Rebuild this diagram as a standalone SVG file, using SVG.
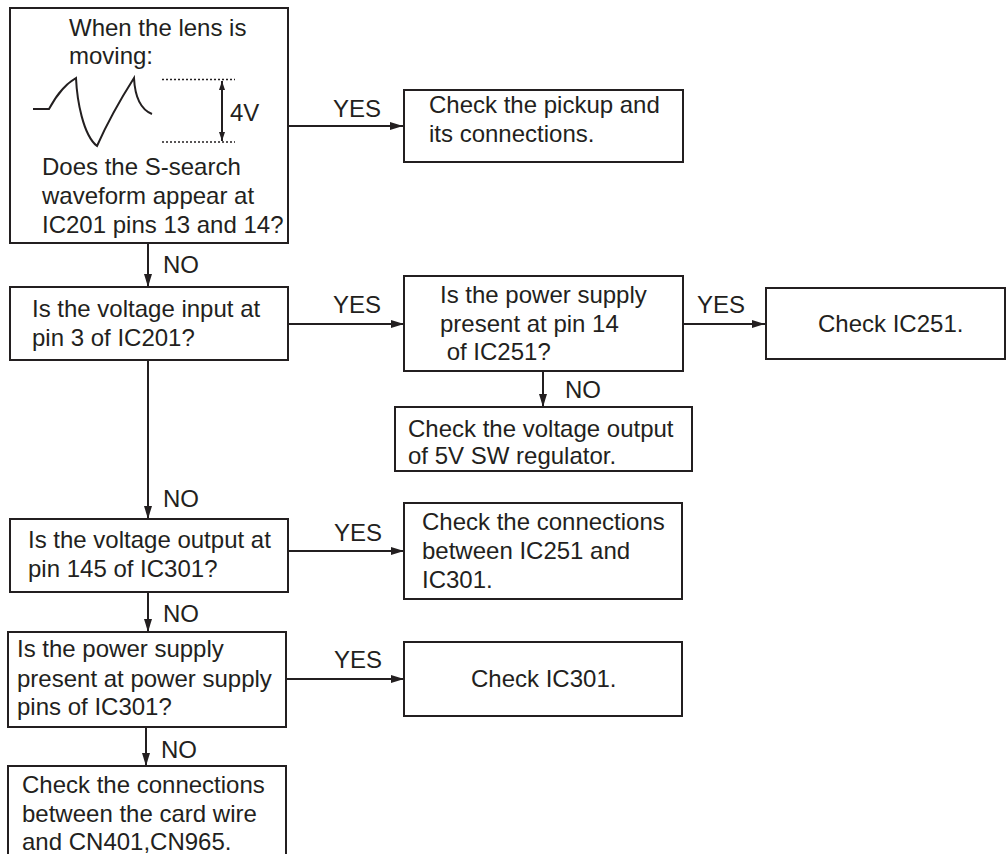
<svg xmlns="http://www.w3.org/2000/svg" width="1008" height="854" viewBox="0 0 1008 854">
<defs>
<marker id="ah" markerUnits="userSpaceOnUse" markerWidth="14" markerHeight="10" refX="13" refY="5" orient="auto">
<path d="M0,1 L13,5 L0,9 Z" fill="#231f20"/>
</marker>
<marker id="sh" markerUnits="userSpaceOnUse" markerWidth="10" markerHeight="8" refX="9" refY="4" orient="auto-start-reverse">
<path d="M0,1 L9,4 L0,7 Z" fill="#231f20"/>
</marker>
<style>
.box{fill:#fff;stroke:#231f20;stroke-width:2}
.t{font-family:"Liberation Sans",Arial,sans-serif;font-size:24px;fill:#231f20}
.c{fill:none;stroke:#231f20;stroke-width:2}
.dot{fill:none;stroke:#231f20;stroke-width:1.5;stroke-dasharray:2 2}
</style>
</defs>
<rect width="1008" height="854" fill="#fff"/>

<g id="connectors">
<path class="c" d="M288,126 H403" marker-end="url(#ah)"/>
<path class="c" d="M148,243 V287" marker-end="url(#ah)"/>
<path class="c" d="M288,324 H404" marker-end="url(#ah)"/>
<path class="c" d="M683,324 H765" marker-end="url(#ah)"/>
<path class="c" d="M543,371 V407" marker-end="url(#ah)"/>
<path class="c" d="M148,360 V519" marker-end="url(#ah)"/>
<path class="c" d="M288,551 H404" marker-end="url(#ah)"/>
<path class="c" d="M148,592 V632" marker-end="url(#ah)"/>
<path class="c" d="M286,679 H404" marker-end="url(#ah)"/>
<path class="c" d="M146,727 V766" marker-end="url(#ah)"/>
<text class="t" x="333" y="117">YES</text>
<text class="t" x="163" y="273">NO</text>
<text class="t" x="333" y="313">YES</text>
<text class="t" x="697" y="313">YES</text>
<text class="t" x="565" y="398">NO</text>
<text class="t" x="163" y="507">NO</text>
<text class="t" x="334" y="541">YES</text>
<text class="t" x="163" y="622">NO</text>
<text class="t" x="334" y="668">YES</text>
<text class="t" x="161" y="758">NO</text>
</g>

<g id="n1">
<rect class="box" x="10" y="8" width="278" height="235"/>
<text class="t" x="69" y="36">When the lens is</text>
<text class="t" x="69" y="64">moving:</text>
<path class="c" d="M33,109 L49,109 C54,100 62,86 76,78 C77,100 83,135 97,146 C105,128 120,100 134,78 C135,98 142,110 152,114" stroke-width="2.4" stroke-linejoin="miter"/>
<path class="dot" d="M162,79.5 H235 M162,142 H235"/>
<path class="c" d="M222,81 V141" stroke-width="1.5" marker-start="url(#sh)" marker-end="url(#sh)"/>
<text class="t" x="230" y="121">4V</text>
<text class="t" x="42" y="175">Does the S-search</text>
<text class="t" x="42" y="204">waveform appear at</text>
<text class="t" x="42" y="233">IC201 pins 13 and 14?</text>
</g>

<g id="n2">
<rect class="box" x="404" y="90" width="279" height="72"/>
<text class="t" x="429" y="113">Check the pickup and</text>
<text class="t" x="429" y="142">its connections.</text>
</g>

<g id="n3">
<rect class="box" x="10" y="287" width="278" height="73"/>
<text class="t" x="32" y="317">Is the voltage input at</text>
<text class="t" x="32" y="346">pin 3 of IC201?</text>
</g>

<g id="n4">
<rect class="box" x="404" y="276" width="279" height="95"/>
<text class="t" x="440" y="303">Is the power supply</text>
<text class="t" x="440" y="332">present at pin 14</text>
<text class="t" x="440" y="360" xml:space="preserve"> of IC251?</text>
</g>

<g id="n5">
<rect class="box" x="766" y="288" width="239" height="71"/>
<text class="t" x="818" y="332">Check IC251.</text>
</g>

<g id="n6">
<rect class="box" x="395" y="407" width="297" height="64"/>
<text class="t" x="408" y="437">Check the voltage output</text>
<text class="t" x="408" y="464">of 5V SW regulator.</text>
</g>

<g id="n7">
<rect class="box" x="10" y="519" width="278" height="73"/>
<text class="t" x="28" y="548">Is the voltage output at</text>
<text class="t" x="28" y="577">pin 145 of IC301?</text>
</g>

<g id="n8">
<rect class="box" x="404" y="503" width="278" height="96"/>
<text class="t" x="422" y="530">Check the connections</text>
<text class="t" x="422" y="559">between IC251 and</text>
<text class="t" x="422" y="588">IC301.</text>
</g>

<g id="n9">
<rect class="box" x="8" y="632" width="278" height="95"/>
<text class="t" x="17" y="657">Is the power supply</text>
<text class="t" x="17" y="687">present at power supply</text>
<text class="t" x="17" y="715">pins of IC301?</text>
</g>

<g id="n10">
<rect class="box" x="404" y="642" width="278" height="74"/>
<text class="t" x="471" y="687">Check IC301.</text>
</g>

<g id="n11">
<rect class="box" x="8" y="766" width="278" height="100"/>
<text class="t" x="22" y="793">Check the connections</text>
<text class="t" x="22" y="822">between the card wire</text>
<text class="t" x="22" y="850">and CN401,CN965.</text>
</g>
</svg>
